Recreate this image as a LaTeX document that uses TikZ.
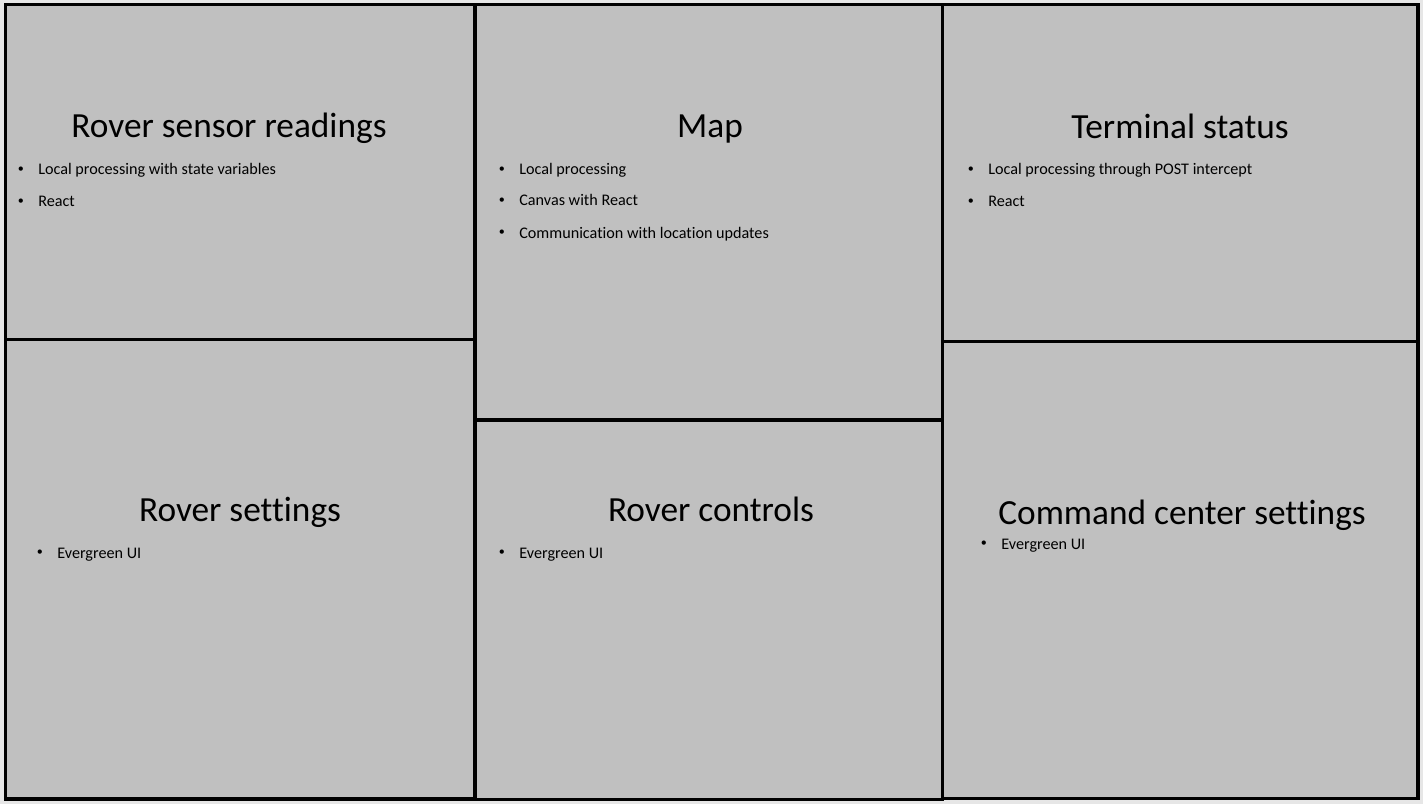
\documentclass[tikz,border=0pt]{standalone}
\usepackage{fontspec}
\setmainfont{Carlito}[Ligatures={NoCommon}]

\definecolor{panelgray}{RGB}{192,192,192}
\definecolor{margingray}{RGB}{230,230,230}

\tikzset{
  panel/.style={fill=panelgray,draw=black,line width=2pt},
  title/.style={anchor=base,inner sep=0,font=\fontsize{20.1}{24}\selectfont},
  item/.style={anchor=base west,inner sep=0,font=\fontsize{9.2}{11}\selectfont},
}
\newcommand{\bul}{\llap{\raisebox{0.3ex}{\scalebox{0.75}{\textbullet}}\hskip 2.9mm}}

\begin{document}
\begin{tikzpicture}[x=0.02cm,y=-0.02cm]
    \fill[margingray] (0,0) rectangle (1423,804);
    % left column
    \filldraw[panel] (5.5,4.5) rectangle (475,339.5);
    \filldraw[panel] (5.5,339.5) rectangle (475,799);
    % middle column
    \filldraw[panel] (475,4.5) rectangle (942.5,420);
    \filldraw[panel] (475,420) rectangle (942.5,799.5);
    % right column
    \filldraw[panel] (942.5,4.5) rectangle (1418,341.5);
    \filldraw[panel] (942.5,341.5) rectangle (1418,798.5);

    \node[title] (sensor_title) at (229,138) {Rover sensor readings};
    \node[item] (sensor_a) at (38,175) {\bul Local processing with state variables};
    \node[item] (sensor_b) at (38,207) {\bul React};

    \node[title] (map_title) at (710,138) {Map};
    \node[item] (map_a) at (519,175) {\bul Local processing};
    \node[item] (map_b) at (519,206) {\bul Canvas with React};
    \node[item] (map_c) at (519,238) {\bul Communication with location updates};

    \node[title] (term_title) at (1180,139) {Terminal status};
    \node[item] (term_a) at (988,175) {\bul Local processing through POST intercept};
    \node[item] (term_b) at (988,207) {\bul React};

    \node[title] (settings_title) at (240,521) {Rover settings};
    \node[item] (settings_a) at (57,558) {\bul Evergreen UI};

    \node[title] (controls_title) at (711,521) {Rover controls};
    \node[item] (controls_a) at (519,558) {\bul Evergreen UI};

    \node[title] (command_title) at (1182,524) {Command center settings};
    \node[item] (command_a) at (1001,549) {\bul Evergreen UI};
\end{tikzpicture}
\end{document}
